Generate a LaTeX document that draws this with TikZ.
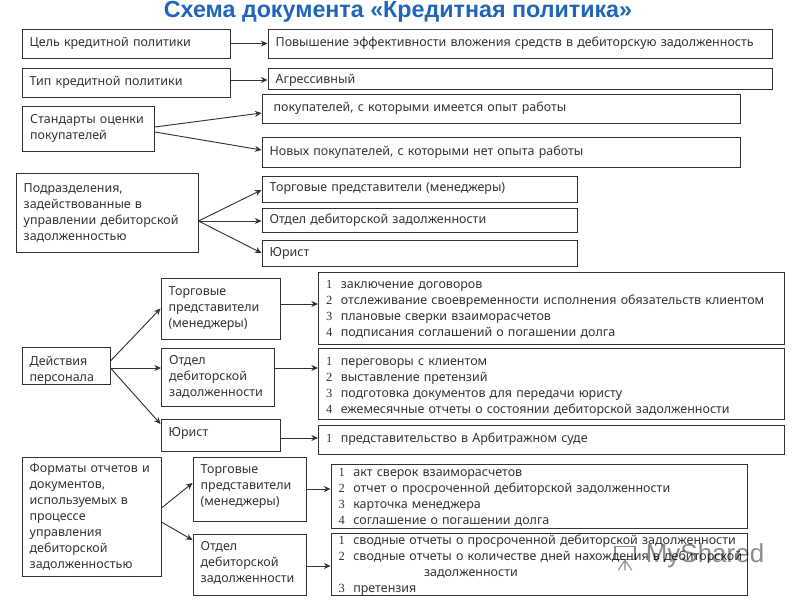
\documentclass[tikz,border=0pt]{standalone}
\usepackage{fontspec}
\setmainfont{Noto Sans}
\newfontfamily\titlefont{Liberation Sans}
\newfontfamily\numfont{Liberation Serif}
\definecolor{titleblue}{HTML}{1F66B8}
\definecolor{inkgray}{HTML}{333333}
\newcommand{\numline}[2]{\mbox{\makebox[11pt][l]{{\numfont #1}}#2}}
\newcommand{\topgap}[1]{\rule{0pt}{#1}}
\newcommand{\botgap}[1]{\rule[-#1]{0pt}{#1}}
\tikzset{
  box/.style n args={2}{draw=inkgray, line width=0.7pt, text=inkgray, align=left, inner xsep=5.75pt, inner ysep=0pt,
    text width=#1*0.75pt-11.5pt, minimum height=#2*0.75pt, font=\fontsize{9.35}{12}\selectfont},
  link/.style={draw=inkgray, line width=0.7pt, -{Stealth[length=5pt,width=4.5pt]}}
}
\usetikzlibrary{arrows.meta}
\begin{document}
\begin{tikzpicture}[x=0.75pt,y=-0.75pt]
\useasboundingbox (0,0) rectangle (800,600);
\node[font=\titlefont\bfseries\fontsize{17.45}{20}\selectfont, text=titleblue] (title) at (398,12) {Схема документа «Кредитная политика»};
\node[box={208}{29}] (goal) at (126,43.5) {Цель кредитной политики};
\node[box={504}{29}] (goalval) at (520,43.5) {Повышение эффективности вложения средств в дебиторскую задолженность};
\node[box={208}{29}] (type) at (126,82.5) {Тип кредитной политики};
\node[box={504}{21}] (typeval) at (520,78.5) {\topgap{10pt}Агрессивный};
\node[box={132}{45}] (std) at (88.5,128.5) {Стандарты оценки\\покупателей};
\node[box={478}{29}] (stdold) at (501,108.5) {\hspace*{3pt}покупателей, с которыми имеется опыт работы};
\node[box={478}{30}] (stdnew) at (501,152) {Новых покупателей, с которыми нет опыта работы};
\node[box={182}{79}] (dept) at (107,212.5) {Подразделения,\\задействованные в\\управлении дебиторской\\задолженностью};
\node[box={315}{26}] (deptrep) at (419.5,189) {Торговые представители (менеджеры)};
\node[box={315}{24}] (deptdebt) at (419.5,220) {Отдел дебиторской задолженности};
\node[box={315}{26}] (deptlaw) at (419.5,253) {Юрист};
\node[box={88}{36}] (act) at (66,366) {\topgap{13.5pt}Действия\\персонала};
\node[box={119}{61}] (actrep) at (220.5,308.5) {Торговые\\представители\\(менеджеры)};
\node[box={113}{58}] (actdebt) at (218,377) {Отдел\\дебиторской\\задолженности};
\node[box={119}{32}] (actlaw) at (220.5,435) {Юрист\botgap{5pt}};
\node[box={466}{72}] (listrep) at (551.5,308) {\topgap{8.3pt}\numline{1}{заключение договоров}\\\numline{2}{отслеживание своевременности исполнения обязательств клиентом}\\\numline{3}{плановые сверки взаиморасчетов}\\\numline{4}{подписания соглашений о погашении долга}};
\node[box={466}{71}] (listdebt) at (551.5,384) {\topgap{10.8pt}\numline{1}{переговоры с клиентом}\\\numline{2}{выставление претензий}\\\numline{3}{подготовка документов для передачи юристу}\\\numline{4}{ежемесячные отчеты о состоянии дебиторской задолженности}};
\node[box={466}{29}] (listlaw) at (551.5,439.5) {\numline{1}{представительство в Арбитражном суде}};
\node[box={139}{119}] (fmt) at (91.5,516.5) {Форматы отчетов и\\документов,\\используемых в\\процессе\\управления\\дебиторской\\задолженностью};
\node[box={113}{64}] (fmtrep) at (249.5,489) {Торговые\\представители\\(менеджеры)\botgap{5.2pt}};
\node[box={113}{61}] (fmtdebt) at (249.5,564.5) {Отдел\\дебиторской\\задолженности\botgap{4.5pt}};
\node[box={416}{64}] (listact) at (539,496) {\topgap{8.3pt}\numline{1}{акт сверок взаиморасчетов}\\\numline{2}{отчет о просроченной дебиторской задолженности}\\\numline{3}{карточка менеджера}\\\numline{4}{соглашение о погашении долга}};
\node[box={416}{61}] (listsum) at (539,564.5) {\topgap{8.3pt}\numline{1}{сводные отчеты о просроченной дебиторской задолженности}\\\numline{2}{сводные отчеты о количестве дней нахождения в дебиторской}\\\hspace*{64pt}задолженности\\\numline{3}{претензия}};
\node[font=\titlefont\fontsize{19.5}{22}\selectfont, text=black, opacity=0.45] (mark) at (705,556) {MyShared};
\node[draw=black, opacity=0.45, line width=1pt, minimum width=15pt, minimum height=10pt, inner sep=0pt] (markicon) at (625,553) {};
\draw[black, opacity=0.45, line width=0.8pt] (markicon.south) -- ++(0,10) (markicon.south) -- ++(-7,10) (markicon.south) -- ++(7,10);
\draw[link] (goal) -- (goalval);
\draw[link] (type.east |- 0,80) -- (typeval.west |- 0,80);
\draw[link] (std.east |- 0,127) -- (stdold.west |- 0,113);
\draw[link] (std.east |- 0,132) -- (stdnew.west |- 0,150);
\draw[link] (dept.east |- 0,221) -- (deptrep.west |- 0,190);
\draw[link] (dept.east |- 0,221) -- (deptdebt.west |- 0,221);
\draw[link] (dept.east |- 0,221) -- (deptlaw.west);
\draw[link] (act.east |- 0,361) -- (actrep.west);
\draw[link] (act.east |- 0,368) -- (actdebt.west |- 153,368);
\draw[link] (act.east |- 0,368) -- (actlaw.west |- 0,424);
\draw[link] (actrep.east |- 0,304) -- (listrep.west |- 0,304);
\draw[link] (actdebt.east |- 0,368) -- (listdebt.west |- 0,368);
\draw[link] (actlaw.east |- 0,438) -- (listlaw.west |- 0,438);
\draw[link] (fmt.east |- 0,508) -- (fmtrep.west |- 0,483);
\draw[link] (fmt.east |- 0,522) -- (fmtdebt.west |- 0,540);
\draw[link] (fmtrep.east) -- (listact.west |- fmtrep.east);
\draw[link] (fmtdebt.east |- 0,566) -- (listsum.west |- 0,566);
\end{tikzpicture}
\end{document}
